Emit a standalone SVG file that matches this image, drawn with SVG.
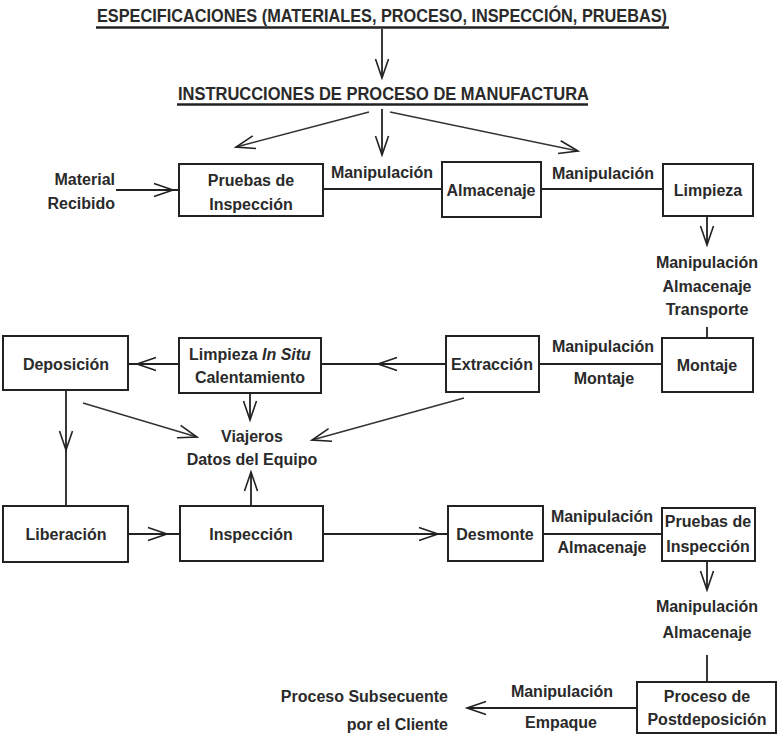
<svg xmlns="http://www.w3.org/2000/svg" width="779" height="736" viewBox="0 0 779 736">
<defs>
<style>
.bx{fill:#fff;stroke:#222;stroke-width:2}
.t{font-family:"Liberation Sans",Arial,sans-serif;font-weight:bold;font-size:16px;fill:#2a2a2a;text-anchor:middle}
.te{text-anchor:end}
.ts{text-anchor:start}
.hd{font-size:19px}
.c{fill:none;stroke:#222;stroke-width:1.8}
.d{fill:none;stroke:#333;stroke-width:1.5}
.ul{stroke:#222;stroke-width:2.5}
</style>
<marker id="ah" markerUnits="userSpaceOnUse" markerWidth="22" markerHeight="16" viewBox="-20 -8 22 16" refX="0" refY="0" orient="auto" overflow="visible">
<path d="M-19,-6.5 L0,0 L-19,6.5" fill="none" stroke="#222" stroke-width="1.6"/>
</marker>
</defs>
<rect width="779" height="736" fill="#fff"/>

<g id="n_spec">
<text class="t ts hd" x="97" y="22" textLength="570" lengthAdjust="spacingAndGlyphs">ESPECIFICACIONES (MATERIALES, PROCESO, INSPECCIÓN, PRUEBAS)</text>
<line class="ul" x1="96" y1="27.5" x2="669" y2="27.5"/>
</g>
<g id="n_instr">
<text class="t ts hd" x="178" y="100" textLength="411" lengthAdjust="spacingAndGlyphs">INSTRUCCIONES DE PROCESO DE MANUFACTURA</text>
<line class="ul" x1="177" y1="104.5" x2="588" y2="104.5"/>
</g>
<g id="n_material">
<text class="t te" x="115" y="185">Material</text>
<text class="t te" x="115" y="209">Recibido</text>
</g>
<g id="n_pruebas1">
<rect class="bx" x="179" y="164" width="144" height="52"/>
<text class="t" x="251" y="186">Pruebas de</text>
<text class="t" x="251" y="210">Inspección</text>
</g>
<g id="n_almacenaje">
<rect class="bx" x="442" y="162" width="99" height="55"/>
<text class="t" x="491" y="196">Almacenaje</text>
</g>
<g id="n_limpieza">
<rect class="bx" x="663" y="164" width="90" height="52"/>
<text class="t" x="708" y="196">Limpieza</text>
</g>
<g id="n_montaje">
<rect class="bx" x="662" y="338" width="91" height="54"/>
<text class="t" x="707" y="371">Montaje</text>
</g>
<g id="n_extraccion">
<rect class="bx" x="446" y="336" width="93" height="56"/>
<text class="t" x="492" y="370">Extracción</text>
</g>
<g id="n_limpieza_insitu">
<rect class="bx" x="179" y="338" width="142" height="55"/>
<text class="t" x="250" y="360">Limpieza <tspan font-style="italic">In Situ</tspan></text>
<text class="t" x="250" y="383">Calentamiento</text>
</g>
<g id="n_deposicion">
<rect class="bx" x="3" y="336" width="125" height="54"/>
<text class="t" x="66" y="370">Deposición</text>
</g>
<g id="n_viajeros">
<text class="t" x="252" y="442">Viajeros</text>
<text class="t" x="252" y="465">Datos del Equipo</text>
</g>
<g id="n_liberacion">
<rect class="bx" x="3" y="506" width="125" height="56"/>
<text class="t" x="66" y="540">Liberación</text>
</g>
<g id="n_inspeccion">
<rect class="bx" x="180" y="506" width="143" height="55"/>
<text class="t" x="251" y="540">Inspección</text>
</g>
<g id="n_desmonte">
<rect class="bx" x="448" y="506" width="95" height="55"/>
<text class="t" x="495" y="540">Desmonte</text>
</g>
<g id="n_pruebas2">
<rect class="bx" x="662" y="508" width="93" height="53"/>
<text class="t" x="708" y="527">Pruebas de</text>
<text class="t" x="708" y="552">Inspección</text>
</g>
<g id="n_postdeposicion">
<rect class="bx" x="637" y="682" width="139" height="51"/>
<text class="t" x="707" y="702">Proceso de</text>
<text class="t" x="707" y="725">Postdeposición</text>
</g>
<g id="n_cliente">
<text class="t te" x="448" y="702">Proceso Subsecuente</text>
<text class="t te" x="448" y="730">por el Cliente</text>
</g>

<g id="connectors">
<path class="c" d="M382,29 L382,78" marker-end="url(#ah)"/>
<path class="d" d="M369,112 L236,147" marker-end="url(#ah)"/>
<path class="c" d="M382,109 L382,155" marker-end="url(#ah)"/>
<path class="d" d="M390,112 L578,151" marker-end="url(#ah)"/>
<polyline class="c" points="116,190 173,190 179,190" marker-mid="url(#ah)"/>
<path class="c" d="M323,189 L442,189"/>
<text class="t" x="382" y="178">Manipulación</text>
<path class="c" d="M541,189 L663,189"/>
<text class="t" x="603" y="179">Manipulación</text>
<path class="c" d="M707,216 L707,245" marker-end="url(#ah)"/>
<text class="t" x="707" y="268">Manipulación</text>
<text class="t" x="707" y="292">Almacenaje</text>
<text class="t" x="707" y="315">Transporte</text>
<path class="c" d="M707,327 L707,338"/>
<path class="c" d="M662,364 L539,364"/>
<text class="t" x="603" y="352">Manipulación</text>
<text class="t" x="604" y="384">Montaje</text>
<polyline class="c" points="446,364 378,364 321,364" marker-mid="url(#ah)"/>
<polyline class="c" points="179,364 137,364 128,364" marker-mid="url(#ah)"/>
<polyline class="c" points="66,390 66,450 66,506" marker-mid="url(#ah)"/>
<path class="d" d="M83,403 L197,437" marker-end="url(#ah)"/>
<path class="c" d="M250,393 L250,420" marker-end="url(#ah)"/>
<path class="d" d="M464,398 L312,440" marker-end="url(#ah)"/>
<path class="c" d="M251,506 L251,472" marker-end="url(#ah)"/>
<polyline class="c" points="128,534 167,534 180,534" marker-mid="url(#ah)"/>
<polyline class="c" points="323,534 438,534 448,534" marker-mid="url(#ah)"/>
<path class="c" d="M543,534 L662,534"/>
<text class="t" x="602" y="522">Manipulación</text>
<text class="t" x="602" y="553">Almacenaje</text>
<path class="c" d="M707,561 L707,590" marker-end="url(#ah)"/>
<text class="t" x="707" y="612">Manipulación</text>
<text class="t" x="707" y="638">Almacenaje</text>
<path class="c" d="M707,655 L707,682"/>
<path class="c" d="M637,708 L467,708" marker-end="url(#ah)"/>
<text class="t" x="562" y="697">Manipulación</text>
<text class="t" x="561" y="728">Empaque</text>
</g>
</svg>
